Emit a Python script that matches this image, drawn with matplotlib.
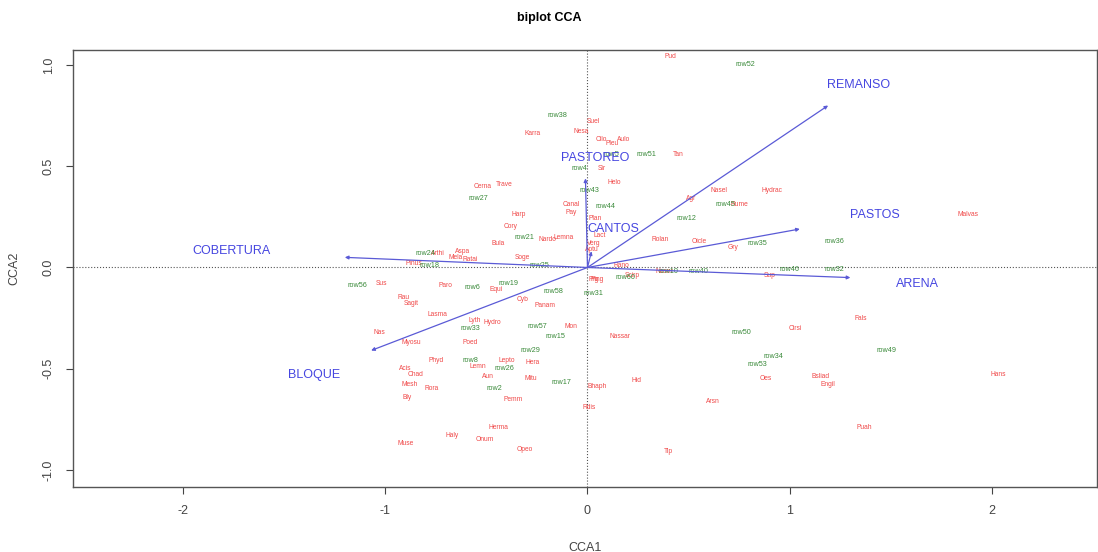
import numpy as np
import matplotlib
matplotlib.use('Agg')
import matplotlib.pyplot as plt

plt.rcParams['font.family'] = 'Liberation Sans'
plt.rcParams['axes.unicode_minus'] = False

# species scores (red)
sp_names = ['Pud', 'Suel', 'Nesa', 'Karra', 'Cilo', 'Pleu', 'Aulo', 'Tan',
            'Sir', 'Cerna', 'Trave', 'Helo', 'Nasel', 'Hydrac', 'Agr', 'Harp',
            'Canal', 'Pay', 'Cory', 'Bula', 'Nardo', 'Lemna', 'Aptu', 'Rolan',
            'Oicle', 'Gry', 'Malvas', 'Pinus', 'Mela', 'Arthi', 'Soge',
            'Ratai', 'Rano', 'Ping', 'Scirp', 'Nasnr', 'Sup', 'Sus', 'Paro',
            'Equi', 'Rau', 'Sagit', 'Lasma', 'Cyb', 'Panam', 'Lyth', 'Hydro',
            'Nas', 'Mon', 'Myosu', 'Poed', 'Nassar', 'Cirsi', 'Fals', 'Phyd',
            'Lepto', 'Hera', 'Acis', 'Chad', 'Lemn', 'Aun', 'Mitu', 'Mesh',
            'Rora', 'Bly', 'Pemm', 'Bhaph', 'Hid', 'Rdis', 'Oes', 'Bsliad',
            'Engil', 'Arsn', 'Hans', 'Puah', 'Herma', 'Haly', 'Onum', 'Muse',
            'Opeo', 'Tip', 'Verg', 'Lact', 'Rume', 'Plan', 'Prg', 'Aspa']
sp_x = [0.41, 0.03, -0.03, -0.27, 0.07, 0.12, 0.18, 0.45,
        0.07, -0.52, -0.41, 0.13, 0.65, 0.91, 0.51, -0.34,
        -0.08, -0.08, -0.38, -0.44, -0.20, -0.12, 0.02, 0.36,
        0.55, 0.72, 1.88, -0.86, -0.65, -0.74, -0.32,
        -0.58, 0.17, 0.05, 0.22, 0.38, 0.90, -1.02, -0.70,
        -0.45, -0.91, -0.87, -0.74, -0.32, -0.21, -0.56, -0.47,
        -1.03, -0.08, -0.87, -0.58, 0.16, 1.03, 1.35, -0.75,
        -0.40, -0.27, -0.90, -0.85, -0.54, -0.49, -0.28, -0.88,
        -0.77, -0.89, -0.37, 0.05, 0.24, 0.01, 0.88, 1.15,
        1.19, 0.62, 2.03, 1.37, -0.44, -0.67, -0.51, -0.90,
        -0.31, 0.40, 0.03, 0.06, 0.75, 0.04, 0.03, -0.62]
sp_y = [1.04, 0.72, 0.67, 0.66, 0.63, 0.61, 0.63, 0.56,
        0.49, 0.40, 0.41, 0.42, 0.38, 0.38, 0.34, 0.26,
        0.31, 0.27, 0.20, 0.12, 0.14, 0.15, 0.09, 0.14,
        0.13, 0.10, 0.26, 0.02, 0.05, 0.07, 0.05,
        0.04, 0.01, -0.06, -0.04, -0.02, -0.04, -0.08, -0.09,
        -0.11, -0.15, -0.18, -0.23, -0.16, -0.19, -0.26, -0.27,
        -0.32, -0.29, -0.37, -0.37, -0.34, -0.30, -0.25, -0.46,
        -0.46, -0.47, -0.50, -0.53, -0.49, -0.54, -0.55, -0.58,
        -0.60, -0.64, -0.65, -0.59, -0.56, -0.69, -0.55, -0.54,
        -0.58, -0.66, -0.53, -0.79, -0.79, -0.83, -0.85, -0.87,
        -0.90, -0.91, 0.12, 0.16, 0.31, 0.24, -0.06, 0.08]

# site scores (green)
site_names = ['row52', 'row38', 'row51', 'row5', 'row4', 'row43', 'row27',
              'row44', 'row45', 'row12', 'row35', 'row36', 'row21', 'row24',
              'row18', 'row25', 'row46', 'row32', 'row60', 'row56', 'row6',
              'row19', 'row58', 'row31', 'row57', 'row15', 'row33', 'row50',
              'row29', 'row34', 'row53', 'row49', 'row8', 'row26', 'row2',
              'row17', 'row40', 'row10']
site_x = [0.78, -0.15, 0.29, 0.12, -0.04, 0.01, -0.54,
          0.09, 0.68, 0.49, 0.84, 1.22, -0.31, -0.80,
          -0.78, -0.24, 1.00, 1.22, 0.19, -1.14, -0.57,
          -0.39, -0.17, 0.03, -0.25, -0.16, -0.58, 0.76,
          -0.28, 0.92, 0.84, 1.48, -0.58, -0.41, -0.46,
          -0.13, 0.55, 0.40]
site_y = [1.00, 0.75, 0.56, 0.56, 0.49, 0.38, 0.34,
          0.30, 0.31, 0.24, 0.12, 0.13, 0.15, 0.07,
          0.01, 0.01, -0.01, -0.01, -0.05, -0.09, -0.10,
          -0.08, -0.12, -0.13, -0.29, -0.34, -0.30, -0.32,
          -0.41, -0.44, -0.48, -0.41, -0.46, -0.50, -0.60,
          -0.57, -0.02, -0.02]

# environmental vectors (blue)
env_names = ['REMANSO', 'PASTOS', 'ARENA', 'COBERTURA', 'BLOQUE',
             'PASTOREO', 'CANTOS']
env_x = [1.19, 1.05, 1.30, -1.20, -1.07, -0.01, 0.02]
env_y = [0.80, 0.19, -0.05, 0.05, -0.41, 0.44, 0.08]
env_lab_x = [1.34, 1.42, 1.63, -1.76, -1.35, 0.04, 0.13]
env_lab_y = [0.90, 0.26, -0.08, 0.08, -0.53, 0.54, 0.19]

red = '#f04848'
green = '#3a8a3a'
blue = '#4646e0'

fig = plt.figure(figsize=(10.98, 5.52), dpi=100)
ax = fig.add_axes([0.0665, 0.1178, 0.9325, 0.7916])

ax.axhline(0, color='#555555', linestyle=':', linewidth=0.8, zorder=1)
ax.axvline(0, color='#555555', linestyle=':', linewidth=0.8, zorder=1)

for n, x, y in zip(sp_names, sp_x, sp_y):
    ax.text(x, y, n, color=red, fontsize=4.8, ha='center', va='center',
            zorder=3)
for n, x, y in zip(site_names, site_x, site_y):
    ax.text(x, y, n, color=green, fontsize=5.2, ha='center', va='center',
            zorder=3)

for n, x, y, lx, ly in zip(env_names, env_x, env_y, env_lab_x, env_lab_y):
    ax.annotate('', xy=(x, y), xytext=(0, 0),
                arrowprops=dict(arrowstyle='-|>,head_length=0.2,head_width=0.1',
                                color='#5a5ad6', lw=0.9, shrinkA=0, shrinkB=0),
                zorder=4)
    ax.text(lx, ly, n, color=blue, fontsize=9, ha='center', va='center',
            zorder=5)

ax.set_xlim(-2.544, 2.519)
ax.set_ylim(-1.084, 1.074)
ax.set_xticks([-2, -1, 0, 1, 2])
ax.set_yticks([-1.0, -0.5, 0.0, 0.5, 1.0])
ax.set_yticklabels(['-1.0', '-0.5', '0.0', '0.5', '1.0'], rotation=90,
                   va='center')
ax.tick_params(labelsize=9, colors='#444444', length=5, direction='out',
               pad=8)
for s in ax.spines.values():
    s.set_color('#555555')
    s.set_linewidth(1.0)

ax.set_xlabel('CCA1', fontsize=9, color='#444444', labelpad=18)
ax.set_ylabel('CCA2', fontsize=9, color='#444444', labelpad=16)
fig.suptitle('biplot CCA', fontsize=9, fontweight='bold', y=0.978)

fig.savefig('out.png', dpi=100)
